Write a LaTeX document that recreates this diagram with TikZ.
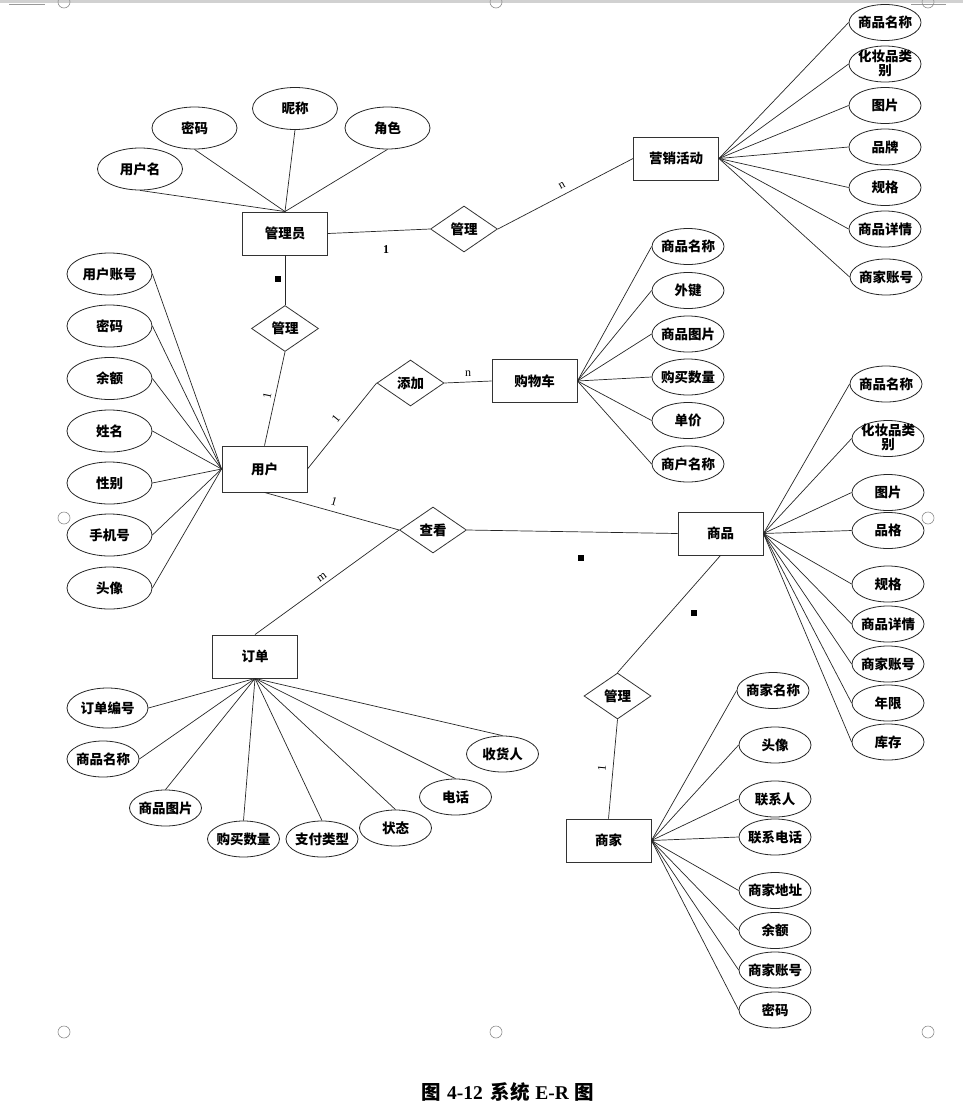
\documentclass[tikz,border=0pt]{standalone}
\usepackage{fontspec}
\setmainfont{Noto Sans CJK SC}
\newfontfamily\latf{Liberation Serif}
\usetikzlibrary{shapes.geometric}
\newcommand\erfont{\fontsize{13.5}{15}\selectfont\bfseries}
\newcommand\cz[1]{\makebox[0pt]{#1}}
\tikzset{
  ent/.style={draw=black!80, line width=0.9pt, rectangle, minimum width=85pt, minimum height=43pt, inner sep=0pt, font=\erfont},
  rel/.style={draw=black!80, line width=0.8pt, diamond, minimum width=67pt, minimum height=46pt, inner sep=0pt, font=\erfont},
  attr/.style={draw=black!85, line width=0.8pt, ellipse, minimum width=72pt, minimum height=36pt, inner sep=0pt, font=\erfont},
  attrL/.style={attr, minimum width=85pt, minimum height=42pt},
  txt/.style={inner sep=0pt, align=center, font=\fontsize{13.5}{14}\selectfont\bfseries},
  conn/.style={draw=black!85, line width=0.7pt},
  card/.style={inner sep=0pt, font=\latf\fontsize{12}{12}\selectfont},
  sq/.style={fill=black, minimum size=6pt, inner sep=0pt},
  handle/.style={draw=black!45, line width=0.6pt},
}
\begin{document}
\begin{tikzpicture}[x=1pt,y=-1pt]
\useasboundingbox (0,0) rectangle (963,1111);
\clip (0,0) rectangle (963,1111);
% page decorations
\draw[black!18, line width=3pt] (0,1.5) -- (963,1.5);
\draw[black!40, line width=0.6pt] (9,4) -- (45,4);
\draw[black!40, line width=0.6pt] (911,4) -- (946,4);
\foreach \hx/\hy in {64/2, 496/2, 928/2, 64/518, 928/518, 64/1032, 496/1032, 928/1032}
  \draw[handle] (\hx,\hy) circle (6);

% entities
\node[ent] (gly) at (285,233.5) {管理员};
\node[ent] (yxhd) at (676,158.5) {营销活动};
\node[ent, minimum height=46pt] (yh) at (264.5,469) {用户};
\node[ent] (gwc) at (534.5,381) {购物车};
\node[ent] (sp) at (720.5,533.5) {商品};
\node[ent] (dd) at (255,656.5) {订单};
\node[ent] (sj) at (608.5,840.5) {商家};

% relationships
\node[rel] (gl1) at (464,229) {管理};
\node[rel] (gl2) at (285,328.5) {管理};
\node[rel] (tj) at (410.5,383) {添加};
\node[rel] (ck) at (433,530) {查看};
\node[rel] (gl3) at (617.5,696) {管理};

% attributes of 管理员
\node[attrL] (a1) at (140,169) {用户名};
\node[attrL] (a2) at (194.5,128) {密码};
\node[attrL] (a3) at (295,108.5) {昵称};
\node[attrL] (a4) at (387.5,128) {角色};
\foreach \a in {a1,a2,a3,a4} \draw[conn] (gly.north) -- (\a.south);

% attributes of 营销活动
\node[attr] (b1) at (885,22.5) {\cz{商品名称}};
\node[attr] (b2) at (885,64) {};
\node[txt] (b2t) at (885,63) {化妆品类\\别};
\node[attr] (b3) at (885,105.5) {图片};
\node[attr] (b4) at (885,147) {品牌};
\node[attr] (b5) at (885,187.5) {规格};
\node[attr] (b6) at (885,229) {\cz{商品详情}};
\node[attr] (b7) at (886,277) {\cz{商家账号}};
\foreach \a in {b1,b2,b3,b4,b5,b6,b7} \draw[conn] (yxhd.east) -- (\a.west);

% attributes of 用户
\node[attrL] (c1) at (109.5,274) {用户账号};
\node[attrL] (c2) at (109.5,326) {密码};
\node[attrL] (c3) at (109.5,378.5) {余额};
\node[attrL] (c4) at (109.5,431) {姓名};
\node[attrL] (c5) at (109.5,483) {性别};
\node[attrL] (c6) at (109.5,535) {手机号};
\node[attrL] (c7) at (109.5,588) {头像};
\foreach \a in {c1,c2,c3,c4,c5,c6,c7} \draw[conn] (yh.west) -- (\a.east);

% attributes of 购物车
\node[attr] (d1) at (688,246.5) {\cz{商品名称}};
\node[attr] (d2) at (688,290.5) {外键};
\node[attr] (d3) at (688,334) {\cz{商品图片}};
\node[attr] (d4) at (688,377) {\cz{购买数量}};
\node[attr] (d5) at (688,420.5) {单价};
\node[attr] (d6) at (688,464) {\cz{商户名称}};
\foreach \a in {d1,d2,d3,d4,d5,d6} \draw[conn] (gwc.east) -- (\a.west);

% attributes of 商品
\node[attr] (e1) at (886,384) {\cz{商品名称}};
\node[attr] (e2) at (888,438.5) {};
\node[txt] (e2t) at (888,437.5) {化妆品类\\别};
\node[attr] (e3) at (888,492.5) {图片};
\node[attr] (e4) at (888,530.5) {品格};
\node[attr] (e5) at (888,584) {规格};
\node[attr] (e6) at (888,624) {\cz{商品详情}};
\node[attr] (e7) at (888,664) {\cz{商家账号}};
\node[attr] (e8) at (888,703) {年限};
\node[attr] (e9) at (888,742) {库存};
\foreach \a in {e1,e2,e3,e4,e5,e6,e7,e8,e9} \draw[conn] (sp.east) -- (\a.west);

% attributes of 订单
\node[attr, minimum width=81pt, minimum height=40pt] (f1) at (107.5,708) {\cz{订单编号}};
\node[attr] (f2) at (103,759) {\cz{商品名称}};
\node[attr] (f3) at (165.5,808) {\cz{商品图片}};
\node[attr] (f4) at (243.5,839) {\cz{购买数量}};
\node[attr] (f5) at (322,839) {\cz{支付类型}};
\node[attr] (f6) at (395.5,828) {状态};
\node[attr] (f7) at (455.5,797) {电话};
\node[attr] (f8) at (502.5,754) {收货人};
\draw[conn] (dd.south) -- (f1.east);
\draw[conn] (dd.south) -- (f2.east);
\foreach \a in {f3,f4,f5,f6,f7,f8} \draw[conn] (dd.south) -- (\a.north);

% attributes of 商家
\node[attr] (g1) at (773,690.5) {\cz{商家名称}};
\node[attr] (g2) at (775,745) {头像};
\node[attr] (g3) at (775,799) {联系人};
\node[attr] (g4) at (775,837) {\cz{联系电话}};
\node[attr] (g5) at (775,890.5) {\cz{商家地址}};
\node[attr] (g6) at (775,930.5) {余额};
\node[attr] (g7) at (775,970) {\cz{商家账号}};
\node[attr] (g8) at (775,1010) {密码};
\foreach \a in {g1,g2,g3,g4,g5,g6,g7,g8} \draw[conn] (sj.east) -- (\a.west);

% relationship connectors
\draw[conn] (gly.east) -- (gl1.west);
\draw[conn] (gl1.east) -- (yxhd.west);
\draw[conn] (gly.south) -- (gl2.north);
\draw[conn] (gl2.south) -- (yh.north);
\draw[conn] (yh.east) -- (tj.west);
\draw[conn] (tj.east) -- (gwc.west);
\draw[conn] (yh.south) -- (ck.west);
\draw[conn] (ck.west) -- (dd.north);
\draw[conn] (ck.east) -- (sp.west);
\draw[conn] (sp.south) -- (gl3.north);
\draw[conn] (gl3.south) -- (sj.north);

% cardinalities
\node[card, font=\latf\bfseries\fontsize{12}{12}\selectfont] (k1) at (386,250) {1};
\node[card, rotate=27.6] (k2) at (562,186) {n};
\node[sq] (k3) at (278,279) {};
\node[card, rotate=78] (k4) at (267,396) {1};
\node[card, rotate=51] (k5) at (336,419) {1};
\node[card] (k6) at (468,374) {n};
\node[card, rotate=-16] (k7) at (334,502) {1};
\node[card, rotate=36] (k8) at (322,577) {m};
\node[sq] (k9) at (581,558) {};
\node[sq] (k10) at (694,613) {};
\node[card, rotate=85] (k11) at (602,768) {1};

% caption
\node[inner sep=0pt, font=\fontsize{19.5}{20}\selectfont\bfseries] (cap) at (508,1092) {图\hspace{0.3em}{\latf 4-12}\hspace{0.4em}系统\hspace{0.3em}{\latf E-R}\hspace{0.3em}图};
\end{tikzpicture}
\end{document}
